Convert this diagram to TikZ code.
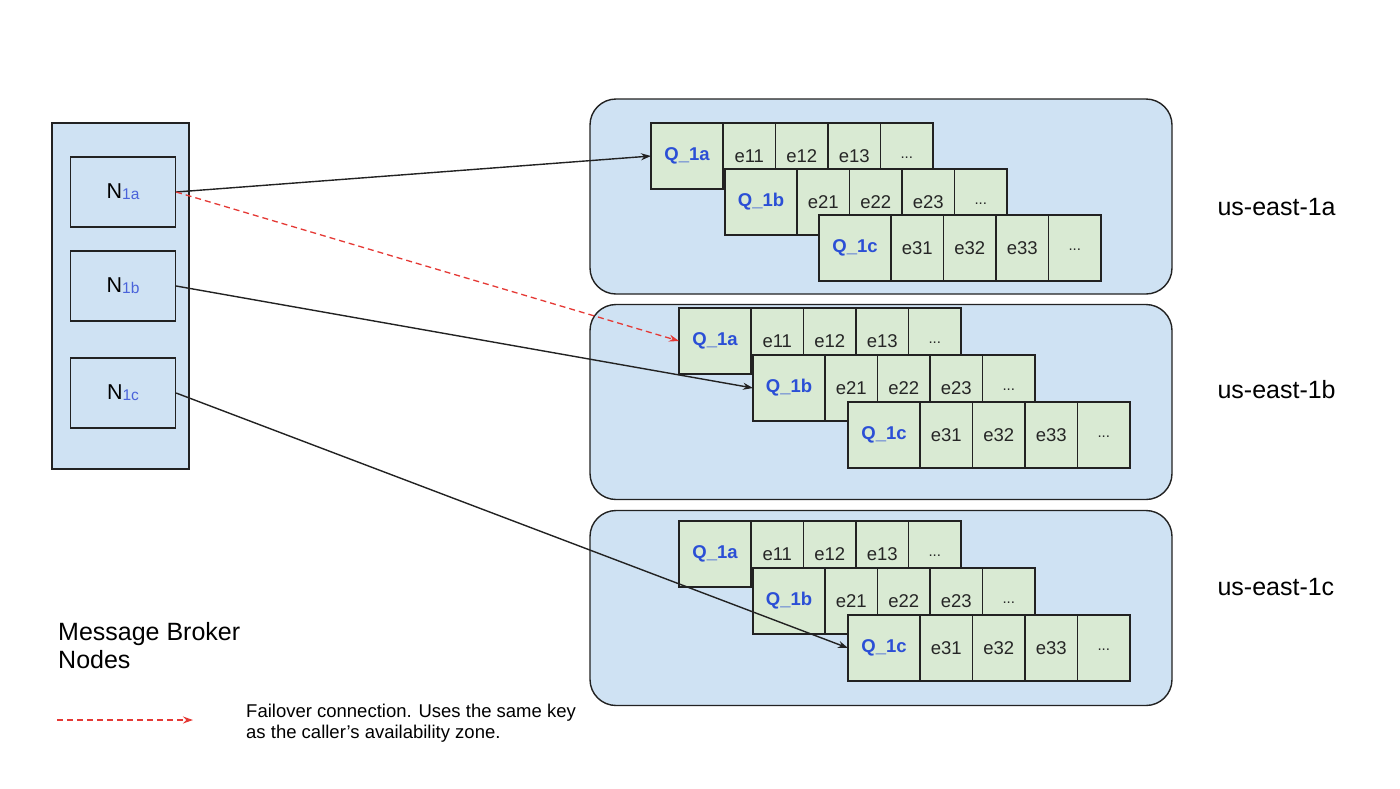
\documentclass[tikz,border=0pt]{standalone}
\usepackage{fontspec}
\setmainfont{Liberation Sans}
\usepackage{xcolor}
\usetikzlibrary{arrows.meta, positioning}

\definecolor{zonefill}{HTML}{CFE2F3}
\definecolor{cellfill}{HTML}{D9EAD3}
\definecolor{qblue}{HTML}{2B4FD6}
\definecolor{subblue}{HTML}{4A63DA}
\definecolor{failred}{HTML}{E53935}
\definecolor{edge}{HTML}{222222}

% une rangee de file : nom, x, y, lettre, chiffre
\newcommand{\qrow}[5]{%
  \node[qcell] (#1) at (#2,#3) {Q\_1#4};
  \node[cell, right=0pt of #1] (#1-1) {e#51};
  \node[cell, right=0pt of #1-1] (#1-2) {e#52};
  \node[cell, right=0pt of #1-2] (#1-3) {e#53};
  \node[cell, right=0pt of #1-3] (#1-4) {\raisebox{-4pt}{\fontsize{15}{15}\selectfont...}};
}
\newcommand{\nlabel}[1]{N\raisebox{-1pt}{\fontsize{15.5}{15.5}\selectfont\textcolor{subblue}{#1}}}

\begin{document}
\begin{tikzpicture}[x=1pt, y=-1pt, >={Stealth[length=10pt,width=7pt]},
  every node/.style={font=\fontsize{18.5}{21}\selectfont},
  box/.style={draw=edge, line width=1.2pt, fill=zonefill},
  zone/.style={draw=edge, line width=1.4pt, fill=zonefill, rounded corners=26pt,
    minimum width=582pt, minimum height=195pt},
  nbox/.style={draw=edge, line width=1.2pt, fill=zonefill, minimum width=105pt,
    minimum height=70pt, font=\fontsize{21.5}{21.5}\selectfont},
  cell/.style={draw=edge, line width=1.1pt, fill=cellfill, minimum width=52.5pt,
    minimum height=66pt, inner sep=0pt, outer sep=0pt, text=black!85},
  qcell/.style={cell, minimum width=72pt, anchor=north west, text=qblue,
    font=\fontsize{18.5}{21}\selectfont\bfseries},
  conn/.style={->, line width=1.4pt, draw=edge},
  failover/.style={->, line width=1.3pt, draw=failred, dash pattern=on 6pt off 4pt}]
  \useasboundingbox (0,0) rectangle (1400,788);

  % Noeuds du broker
  \node[box, minimum width=137pt, minimum height=346pt] (brokers) at (120.5,296) {};
  \node[nbox] (n1a) at (123,192) {\nlabel{1a}};
  \node[nbox] (n1b) at (123,286) {\nlabel{1b}};
  \node[nbox] (n1c) at (123,393) {\nlabel{1c}};

  % Zones de disponibilite
  \node[zone] (za) at (881,196.5) {};
  \node[zone] (zb) at (881,402) {};
  \node[zone] (zc) at (881,608) {};

  % Files us-east-1a
  \qrow{za-a}{651}{123}{a}{1}
  \qrow{za-b}{725}{169}{b}{2}
  \qrow{za-c}{819}{215}{c}{3}

  % Files us-east-1b
  \qrow{zb-a}{679}{308}{a}{1}
  \qrow{zb-b}{753}{355}{b}{2}
  \qrow{zb-c}{848}{402}{c}{3}

  % Files us-east-1c
  \qrow{zc-a}{679}{521}{a}{1}
  \qrow{zc-b}{753}{568}{b}{2}
  \qrow{zc-c}{848}{615}{c}{3}

  % Connexions
  \draw[conn] (n1a.east) -- (za-a.west);
  \draw[failover] (n1a.east) -- (zb-a.west);
  \draw[conn] (n1b.east) -- (zb-b.west);
  \draw[conn] (n1c.east) -- (zc-c.west);

  % Labels
  \node[anchor=west, font=\fontsize{25}{25}\selectfont] (la) at (1214,207) {us-east-1a};
  \node[anchor=west, font=\fontsize{25}{25}\selectfont] (lb) at (1214,390) {us-east-1b};
  \node[anchor=west, font=\fontsize{25}{25}\selectfont] (lc) at (1214,587) {us-east-1c};
  \node[anchor=north west, align=left, inner sep=0pt, font=\fontsize{25}{28}\selectfont]
    (title) at (58,622) {Message Broker\\Nodes};

  % Legende
  \coordinate (lg-s) at (57,720);
  \coordinate (lg-e) at (193,720);
  \draw[failover] (lg-s) -- (lg-e);
  \node[anchor=north west, align=left, inner sep=0pt] (legend) at (246,704)
    {Failover connection. Uses the same key\\as the caller's availability zone.};
\end{tikzpicture}
\end{document}
